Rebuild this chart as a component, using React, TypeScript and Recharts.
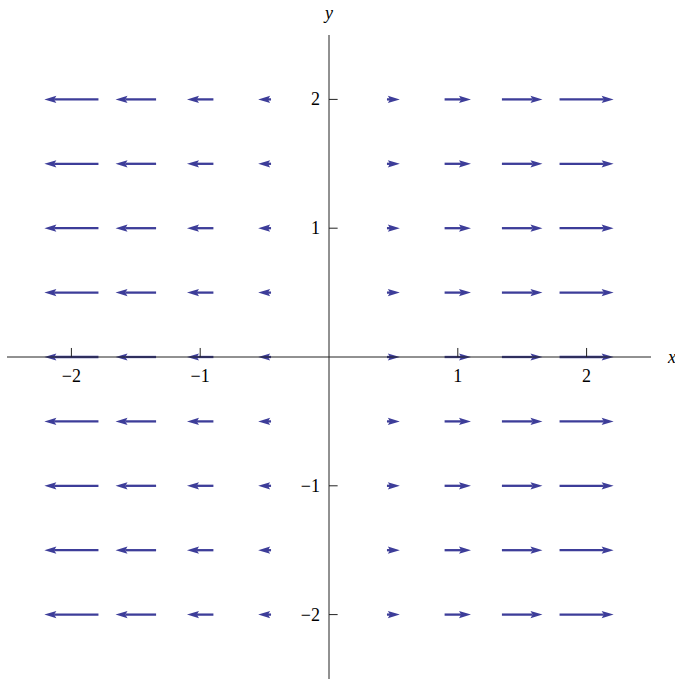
import React from 'react';
import { ScatterChart, Scatter, XAxis, YAxis, ReferenceLine } from 'recharts';

// Grid of sample points
const xCols = [-2, -1.5, -1, -0.5, 0, 0.5, 1, 1.5, 2];
const yRows = [2, 1.5, 1, 0.5, 0, -0.5, -1, -1.5, -2];
// Horizontal arrow extent (data units) per column
const arrowDx = [-0.42, -0.315, -0.205, -0.1, 0, 0.1, 0.205, 0.315, 0.42];
// Vertical arrow extent per row (field is horizontal)
const arrowDy = [0, 0, 0, 0, 0, 0, 0, 0, 0];

const xTicks = [-2, -1, 1, 2];
const yTicks = [-2, -1, 1, 2];
const xTickLabels = ['\u22122', '\u22121', '1', '2'];
const yTickLabels = ['\u22122', '\u22121', '1', '2'];

const ARROW = '#3d3d99';
const AXIS = '#222';
const FONT = '"Liberation Serif", "Times New Roman", serif';
const FS = 18;

type Arrow = { x: number; y: number; dx: number; dy: number };
const arrows: Arrow[] = [];
yRows.forEach((y, j) => {
  xCols.forEach((x, i) => {
    if (arrowDx[i] !== 0 || arrowDy[j] !== 0) {
      arrows.push({ x, y, dx: arrowDx[i], dy: arrowDy[j] });
    }
  });
});

const gridPoints = arrows.map((a) => ({ x: a.x, y: a.y }));

const ArrowShape = (p: any) => {
  const { x1, y1, x2, y2 } = p;
  const dx = x2 - x1;
  const dy = y2 - y1;
  const len = Math.sqrt(dx * dx + dy * dy);
  if (!isFinite(len) || len < 0.5) return <g />;
  const ux = dx / len;
  const uy = dy / len;
  const headLen = Math.min(12, len);
  const halfW = 3.6;
  const notch = 2.2;
  const bx = x2 - ux * headLen;
  const by = y2 - uy * headLen;
  const nx = -uy;
  const ny = ux;
  const pts = [
    [x2, y2],
    [bx + nx * halfW, by + ny * halfW],
    [bx + ux * notch, by + uy * notch],
    [bx - nx * halfW, by - ny * halfW],
  ]
    .map((q) => q.join(','))
    .join(' ');
  return (
    <g>
      <line x1={x1} y1={y1} x2={bx + ux * notch} y2={by + uy * notch} stroke={ARROW} strokeWidth={2.3} />
      <polygon points={pts} fill={ARROW} stroke="none" />
    </g>
  );
};

const XAxisLine = (p: any) => (
  <g>
    <line x1={p.x1} y1={p.y1} x2={p.x2} y2={p.y2} stroke={AXIS} strokeWidth={1} />
    <text x={p.x2 + 17} y={p.y2 + 6} fontFamily={FONT} fontStyle="italic" fontSize={FS} fill="#000">
      x
    </text>
  </g>
);

const YAxisLine = (p: any) => {
  const top = Math.min(p.y1, p.y2);
  return (
    <g>
      <line x1={p.x1} y1={p.y1} x2={p.x2} y2={p.y2} stroke={AXIS} strokeWidth={1} />
      <text x={p.x1} y={top - 16} textAnchor="middle" fontFamily={FONT} fontStyle="italic" fontSize={FS} fill="#000">
        y
      </text>
    </g>
  );
};

const makeXTick = (label: string) => (p: any) => (
  <g>
    <line x1={p.x1} y1={p.y1} x2={p.x2} y2={p.y2} stroke={AXIS} strokeWidth={1} />
    <text x={p.x1} y={p.y1 + 25} textAnchor="middle" fontFamily={FONT} fontSize={FS} fill="#000">
      {label}
    </text>
  </g>
);

const makeYTick = (label: string) => (p: any) => (
  <g>
    <line x1={p.x1} y1={p.y1} x2={p.x2} y2={p.y2} stroke={AXIS} strokeWidth={1} />
    <text x={p.x1 - 9} y={p.y1 + 6} textAnchor="end" fontFamily={FONT} fontSize={FS} fill="#000">
      {label}
    </text>
  </g>
);

export default function App() {
  return (
    <div style={{ position: 'absolute', left: 0, top: 0, width: 675, height: 679, background: '#fff' }}>
      <ScatterChart width={675} height={679} margin={{ top: 35, right: 24, bottom: 0, left: 7 }}>
        <XAxis type="number" dataKey="x" domain={[-2.5, 2.5]} allowDataOverflow hide />
        <YAxis type="number" dataKey="y" domain={[-2.5, 2.5]} allowDataOverflow hide />
        <Scatter data={gridPoints} isAnimationActive={false} shape={() => <g />} />
        {arrows.map((a, k) => (
          <ReferenceLine
            key={'a' + k}
            segment={[
              { x: a.x - a.dx / 2, y: a.y - a.dy / 2 },
              { x: a.x + a.dx / 2, y: a.y + a.dy / 2 },
            ]}
            shape={ArrowShape}
          />
        ))}
        <ReferenceLine y={0} shape={XAxisLine} />
        <ReferenceLine x={0} shape={YAxisLine} />
        {xTicks.map((t, k) => (
          <ReferenceLine
            key={'xt' + k}
            segment={[
              { x: t, y: 0 },
              { x: t, y: 0.07 },
            ]}
            shape={makeXTick(xTickLabels[k])}
          />
        ))}
        {yTicks.map((t, k) => (
          <ReferenceLine
            key={'yt' + k}
            segment={[
              { x: 0, y: t },
              { x: 0.067, y: t },
            ]}
            shape={makeYTick(yTickLabels[k])}
          />
        ))}
      </ScatterChart>
    </div>
  );
}
